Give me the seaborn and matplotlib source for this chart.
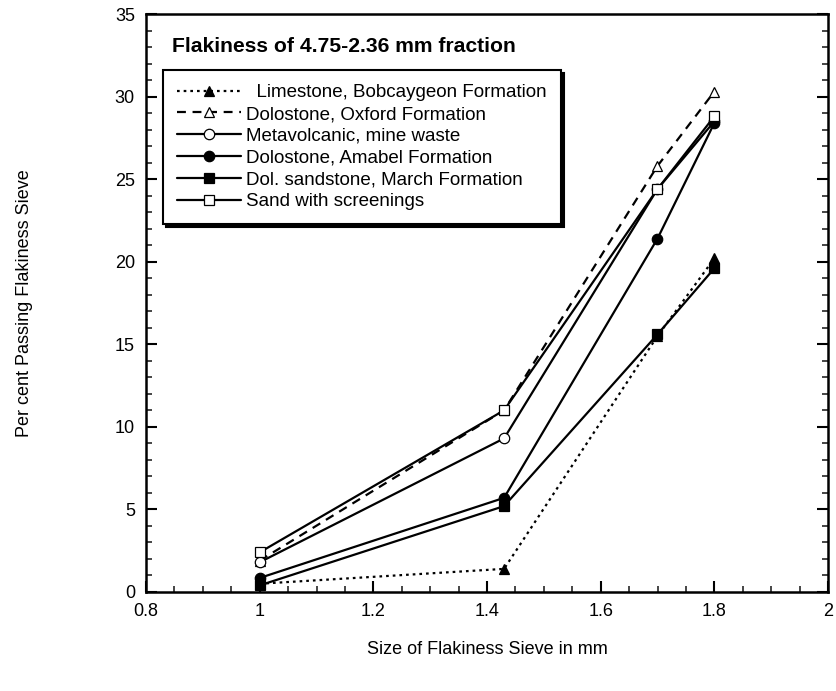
import matplotlib
matplotlib.use("Agg")
import matplotlib.pyplot as plt
from matplotlib.ticker import MultipleLocator, FormatStrFormatter
import seaborn as sns
import pandas as pd

sieve_size = [1.0, 1.43, 1.7, 1.8]

series_names = [
    "  Limestone, Bobcaygeon Formation",
    "Dolostone, Oxford Formation",
    "Metavolcanic, mine waste",
    "Dolostone, Amabel Formation",
    "Dol. sandstone, March Formation",
    "Sand with screenings",
]
limestone_bobcaygeon = [0.5, 1.4, 15.5, 20.2]
dolostone_oxford = [1.9, 11.0, 25.8, 30.3]
metavolcanic = [1.8, 9.3, 24.4, 28.5]
dolostone_amabel = [0.85, 5.7, 21.4, 28.4]
march_sandstone = [0.4, 5.2, 15.6, 19.6]
sand_screenings = [2.4, 11.0, 24.4, 28.8]

values = [limestone_bobcaygeon, dolostone_oxford, metavolcanic,
          dolostone_amabel, march_sandstone, sand_screenings]

styles = [
    dict(marker="^", ls=(0, (1.2, 1.8)), mfc="black"),
    dict(marker="^", ls=(0, (4, 3)), mfc="white"),
    dict(marker="o", ls="-", mfc="white"),
    dict(marker="o", ls="-", mfc="black"),
    dict(marker="s", ls="-", mfc="black"),
    dict(marker="s", ls="-", mfc="white"),
]

sns.set_theme(style="white")
plt.rcParams["font.family"] = ["Liberation Sans", "DejaVu Sans"]

fig = plt.figure(figsize=(8.37, 6.91), dpi=100)
ax = fig.add_axes([146 / 837, 1 - 592 / 691, (828 - 146) / 837, (592 - 14) / 691])

for name, vals, st in zip(series_names, values, styles):
    df = pd.DataFrame({"x": sieve_size, "y": vals})
    sns.lineplot(data=df, x="x", y="y", ax=ax, color="black", lw=1.6,
                 linestyle=st["ls"], marker=st["marker"], markersize=7.5,
                 markerfacecolor=st["mfc"], markeredgecolor="black",
                 markeredgewidth=0.9, label=name, sort=False)

ax.set_xlim(0.8, 2.0)
ax.set_ylim(0, 35)
ax.xaxis.set_major_locator(MultipleLocator(0.2))
ax.xaxis.set_minor_locator(MultipleLocator(0.05))
ax.yaxis.set_major_locator(MultipleLocator(5))
ax.yaxis.set_minor_locator(MultipleLocator(1))
ax.xaxis.set_major_formatter(FormatStrFormatter("%g"))
ax.tick_params(axis="both", which="major", direction="in", length=8, width=1.5,
               labelsize=13, colors="black", pad=8)
ax.tick_params(axis="both", which="minor", direction="in", length=4.5, width=1.2)
ax.tick_params(axis="y", which="both", right=True, left=True)
ax.tick_params(axis="x", which="both", bottom=True, top=False)
for sp in ax.spines.values():
    sp.set_color("black")
    sp.set_linewidth(1.8)

ax.set_xlabel("Size of Flakiness Sieve in mm", fontsize=13, color="black")
ax.set_ylabel("Per cent Passing Flakiness Sieve", fontsize=13, color="black")
ax.xaxis.set_label_coords(0.5, -0.085)
ax.yaxis.set_label_coords(-0.165, 0.5)

ax.text(172, 691 - 47, "Flakiness of 4.75-2.36 mm fraction", transform=None,
        fontsize=15.2, fontweight="bold", color="black", va="center", ha="left")

leg = ax.legend(loc="upper left", bbox_to_anchor=(163 / 837, 1 - 70 / 691),
                bbox_transform=fig.transFigure, frameon=True, fancybox=False,
                shadow={"color": "black", "alpha": 1.0}, fontsize=13.5,
                handlelength=3.4, handletextpad=0.3, labelspacing=0.25,
                borderpad=0.75, borderaxespad=0)
leg.get_frame().set_edgecolor("black")
leg.get_frame().set_linewidth(1.5)
for t in leg.get_texts():
    t.set_color("black")

fig.savefig("out.png", dpi=100)
